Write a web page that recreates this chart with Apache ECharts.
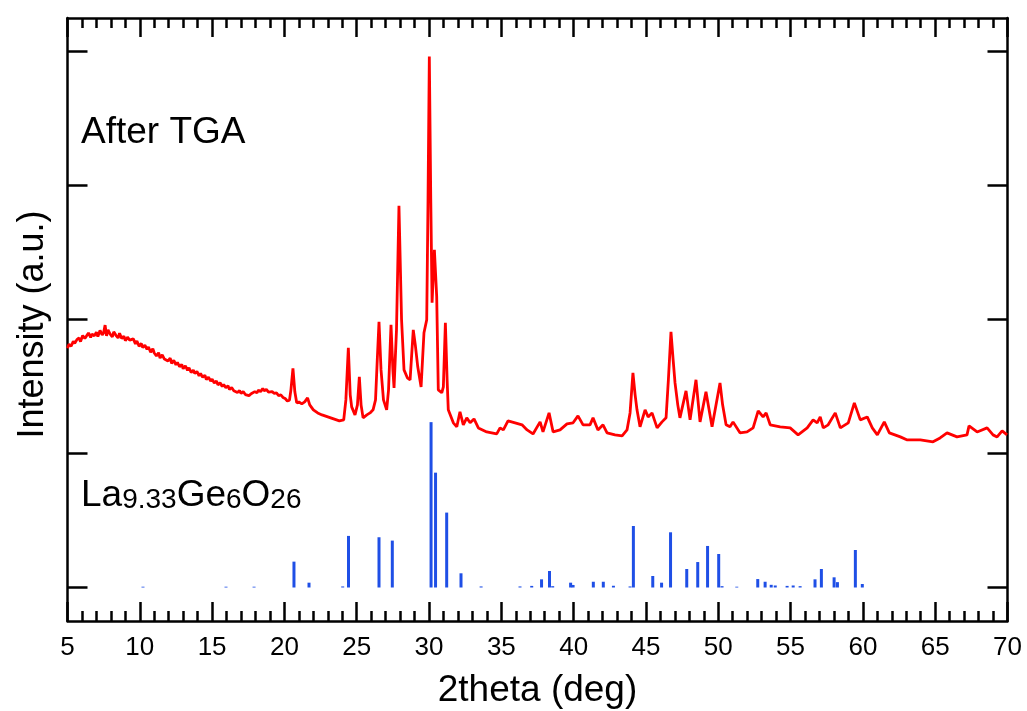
<!DOCTYPE html>
<html>
<head>
<meta charset="utf-8">
<script src="https://cdn.jsdelivr.net/npm/echarts@6/dist/echarts.min.js"></script>
<style>
html,body{margin:0;padding:0;background:#fff;}
#chart{width:1027px;height:711px;}
</style>
</head>
<body>
<div id="chart"></div>
<script>
// ---- data ----
const xTickValues = [5,10,15,20,25,30,35,40,45,50,55,60,65,70];
const yTickValues = [0,1000,2000,3000,4000];
const sampleLabel = 'After TGA';
const refLabelParts = ['La','9.33','Ge','6','O','26'];
const xAxisTitle = '2theta (deg)';
const yAxisTitle = 'Intensity (a.u.)';

// measured pattern (2theta, intensity)
const measuredTheta = [
5.0,5.1,5.25,5.4,5.5,5.65,5.8,5.9,6.05,6.2,6.3,6.45,6.6,6.7,6.85,7.0,7.1,7.25,7.4,7.5,7.6,7.7,7.8,7.95,8.1,8.2,8.35,8.5,8.6,8.75,8.9,9.0,
9.15,9.3,9.4,9.55,9.7,9.8,9.95,10.1,10.2,10.35,10.5,10.6,10.75,10.9,11.0,11.15,11.3,11.4,11.55,11.7,11.8,11.95,12.1,12.2,12.35,12.5,
12.6,12.75,12.9,13.0,13.15,13.3,13.4,13.55,13.7,13.8,13.95,14.1,14.2,14.35,14.5,14.6,14.75,14.9,15.0,15.15,15.3,15.4,15.55,15.7,15.8,
15.95,16.1,16.2,16.35,16.5,16.6,16.75,16.9,17.0,17.15,17.3,17.4,17.55,17.7,17.8,17.95,18.1,18.2,18.35,18.5,18.6,18.75,18.9,19.0,19.15,
19.3,19.45,19.6,19.75,19.9,20.05,20.2,20.35,20.45,20.59,20.72,20.85,21.0,21.2,21.4,
21.6,21.75,22.0,22.3,22.6,23.0,23.4,23.8,24.1,24.25,24.42,24.55,24.65,24.88,25.05,25.18,25.3,25.44,
25.7,25.92,26.13,26.3,26.42,26.54,26.68,26.85,27.07,27.2,27.37,27.5,27.58,27.75,27.92,28.1,28.27,28.5,
28.69,28.8,28.91,29.05,29.22,29.45,29.55,29.65,29.84,29.93,30.02,30.12,30.21,30.37,30.53,30.64,30.88,
30.99,31.13,31.25,31.33,31.68,31.92,32.14,32.37,32.61,32.84,33.11,33.41,33.99,34.68,34.91,35.14,35.46,
35.95,36.43,36.78,37.19,37.68,37.88,38.3,38.58,39.06,39.54,39.96,40.3,40.65,41.13,41.34,41.68,42.03,
42.31,42.86,43.35,43.69,43.9,44.1,44.25,44.38,44.59,44.94,45.15,45.42,45.77,46.11,46.39,46.55,46.73,
46.88,47.01,47.2,47.35,47.77,48.05,48.46,48.74,49.15,49.57,50.12,50.3,50.54,50.81,51.02,51.5,51.99,
52.41,52.76,53.1,53.31,53.59,54.28,54.97,55.52,56.15,56.56,56.84,57.05,57.26,57.6,58.09,58.44,58.99,
59.41,59.82,60.3,60.65,61.0,61.48,61.83,62.59,63.07,63.97,64.85,65.34,65.82,66.51,67.2,67.34,67.9,
68.59,69.0,69.28,69.63,69.97
];
const measuredIntensity = [
1785,1815,1800,1838,1822,1850,1862,1835,1880,1858,1872,1900,1866,1892,1878,1905,1872,1918,1885,1902,1958,1878,1922,1890,1870,1908,1882,1862,1898,1858,1875,1842,
1868,1846,1832,1855,1818,1840,1800,1822,1790,1808,1778,1795,1755,1782,1750,1728,1752,1712,1736,1705,1718,1690,1712,1672,1695,1662,
1680,1648,1665,1632,1655,1620,1640,1605,1622,1598,1612,1580,1598,1568,1585,1552,1570,1540,1555,1526,1542,1512,1528,1500,1515,
1490,1505,1478,1492,1468,1482,1455,1470,1448,1462,1440,1452,1432,1446,1450,1462,1452,1472,1462,1485,1468,1478,1458,1472,1462,
1448,1452,1432,1438,1418,1410,1392,1398,1475,1635,1460,1378,1385,1370,1385,
1415,1363,1326,1303,1288,1273,1258,1243,1251,1400,1789,1438,1348,1288,1363,1572,1363,1266,
1288,1303,1326,1400,1699,1983,1624,1400,1326,1475,1960,1624,1490,1923,2849,1998,1624,1565,
1550,1736,1923,1811,1647,1497,1699,1901,1998,2894,3962,2894,2125,2520,2170,1475,1453,
1497,1975,1550,1326,1229,1199,1311,1214,1266,1229,1258,1191,1161,1146,1191,1176,1243,
1229,1214,1176,1146,1236,1161,1303,1161,1176,1221,1229,1281,1214,1214,1266,1176,1214,
1154,1139,1131,1176,1303,1602,1438,1326,1199,1326,1273,1303,1191,1236,1266,1550,1908,
1699,1527,1363,1266,1467,1251,1550,1236,1460,1199,1527,1363,1214,1199,1236,1154,1161,
1191,1318,1273,1303,1214,1199,1191,1139,1191,1251,1229,1273,1191,1214,1303,1191,1229,
1378,1251,1273,1191,1139,1236,1154,1124,1101,1101,1087,1116,1154,1124,1139,1206,1161,
1191,1139,1124,1169,1139
];

// reference pattern La9.33Ge6O26 (2theta, relative intensity)
const refTheta = [10.22,15.96,17.90,20.66,21.70,24.03,24.43,26.54,27.46,30.14,30.45,31.22,32.21,33.60,36.29,37.10,37.78,38.33,38.55,
39.79,39.96,41.36,42.05,42.75,43.90,44.13,45.47,46.08,46.70,47.82,48.58,49.26,50.03,50.26,51.28,52.73,53.24,53.66,53.94,
54.76,55.18,55.66,56.69,57.13,58.01,58.24,59.48,59.96];
const refIntensity = [6,6,6,193,36,8,385,375,350,1234,857,559,106,8,8,12,61,123,10,
36,19,43,43,13,8,459,86,36,412,138,190,310,250,10,6,63,43,20,15,
12,15,10,61,138,76,40,280,26];

// ---- chart ----
const FONT = 'Liberation Sans, Arial, sans-serif';
const measuredData = measuredTheta.map((t, i) => [t, measuredIntensity[i]]);
const refData = refTheta.map((t, i) => [t, refIntensity[i]]);

const axisLineStyle = {color: '#000', width: 2.5};
function xAxisCfg(pos, showLabel) {
  return {
    type: 'value', position: pos, min: 5, max: 70, interval: 5,
    axisLine: {show: true, onZero: false, lineStyle: axisLineStyle},
    axisTick: {show: true, inside: true, length: 19, lineStyle: axisLineStyle},
    minorTick: {show: true, splitNumber: 5, length: 10, lineStyle: {color: '#000', width: 2.5}},
    axisLabel: {show: showLabel, fontSize: 26, color: '#000', fontFamily: FONT, margin: 14,
      customValues: xTickValues},
    splitLine: {show: false}, minorSplitLine: {show: false}
  };
}
function yAxisCfg(pos) {
  return {
    type: 'value', position: pos, min: -250, max: 4250,
    axisLine: {show: true, onZero: false, lineStyle: axisLineStyle},
    axisTick: {show: true, inside: true, length: 20, lineStyle: axisLineStyle, customValues: yTickValues},
    axisLabel: {show: false},
    splitLine: {show: false}
  };
}
const xBottom = xAxisCfg('bottom', true);
xBottom.name = xAxisTitle;
xBottom.nameLocation = 'middle';
xBottom.nameGap = 51;
xBottom.nameTextStyle = {fontSize: 37, color: '#000', fontFamily: FONT};
const xTop = xAxisCfg('top', false);
const yLeft = yAxisCfg('left');
yLeft.name = yAxisTitle;
yLeft.nameLocation = 'middle';
yLeft.nameGap = 16;
yLeft.nameTextStyle = {fontSize: 36, color: '#000', fontFamily: FONT, padding: [0, 10, 0, 0]};
const yRight = yAxisCfg('right');

const chart = echarts.init(document.getElementById('chart'), null, {renderer: 'canvas'});
chart.setOption({
  animation: false,
  backgroundColor: '#fff',
  grid: {left: 67.5, right: 19.5, top: 18, bottom: 90, containLabel: false, outerBoundsMode: 'none'},
  title: [
    {text: sampleLabel, left: 81, top: 114, padding: 0,
      textStyle: {fontSize: 37, fontWeight: 'normal', color: '#000', fontFamily: FONT}},
    {text: '{a|' + refLabelParts[0] + '}{b|' + refLabelParts[1] + '}{a|' + refLabelParts[2] + '}{b|' +
      refLabelParts[3] + '}{a|' + refLabelParts[4] + '}{b|' + refLabelParts[5] + '}',
      left: 81, top: 468, padding: 0,
      textStyle: {fontWeight: 'normal', color: '#000', fontFamily: FONT,
        rich: {
          a: {fontSize: 37, fontFamily: FONT, color: '#000', lineHeight: 46, verticalAlign: 'bottom'},
          b: {fontSize: 28, fontFamily: FONT, color: '#000', lineHeight: 27, verticalAlign: 'bottom'}
        }}}
  ],
  xAxis: [xBottom, xTop],
  yAxis: [yLeft, yRight],
  series: [
    {type: 'line', name: 'After TGA', data: measuredData, xAxisIndex: 0, yAxisIndex: 0,
      showSymbol: false, symbol: 'none', smooth: false,
      lineStyle: {color: '#ff0000', width: 2.8}, z: 3},
    {type: 'bar', name: 'La9.33Ge6O26', data: refData, xAxisIndex: 0, yAxisIndex: 0,
      barWidth: 3, itemStyle: {color: '#1f4fe6'}, z: 2}
  ]
});
</script>
</body>
</html>
